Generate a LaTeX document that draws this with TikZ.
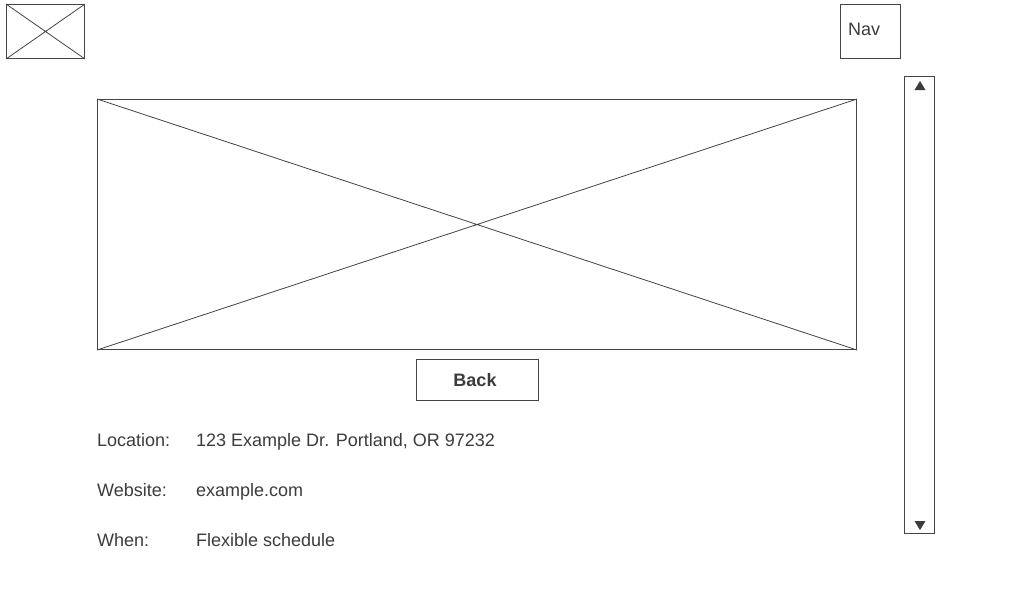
\documentclass[tikz,border=0pt]{standalone}
\usepackage{fontspec}
\setmainfont{Liberation Sans}
\usetikzlibrary{calc,positioning}
\definecolor{wire}{HTML}{444444}
\definecolor{ink}{HTML}{3C3C3C}
\tikzset{
	box/.style={draw=wire, line width=1pt, inner sep=0pt, anchor=north west},
	lbl/.style={text=ink, inner sep=0pt, anchor=base west, font=\fontsize{18}{21}\selectfont},
	cross/.style={draw=wire, line width=0.8pt},
}

\begin{document}
\begin{tikzpicture}[x=1pt, y=-1pt]
			%%%%% START %%%%%
			\useasboundingbox[fill=white] (0, 0) rectangle (1024, 600);
			
			\node[box, minimum width=78, minimum height=54] (logo) at (6, 4) {};
			\draw[cross] (logo.north west) -- (logo.south east) (logo.south west) -- (logo.north east);
			
			\node[box, minimum width=60, minimum height=54] (nav) at (840, 4) {};
			\node[lbl] (navtext) at (848, 35) {Nav};
			
			\node[box, minimum width=30, minimum height=457] (scroll) at (904, 76) {};
			\fill[ink] ($(scroll.north)+(0.5, 5)$) -- ++(5.5, 9) -- ++(-11, 0) -- cycle;
			\fill[ink] ($(scroll.south)+(0.5, -4)$) -- ++(5.5, -9) -- ++(-11, 0) -- cycle;
			
			\node[box, minimum width=759, minimum height=250] (hero) at (97, 99) {};
			\draw[cross] (hero.north west) -- (hero.south east) (hero.south west) -- (hero.north east);
			
			\node[box, minimum width=122, minimum height=41] (back) at (416, 359) {};
			\node[text=ink, inner sep=0pt, font=\fontsize{18}{21}\selectfont\bfseries] (backtext) at ($(back.center)+(-2.5, 0)$) {Back};
			
			\node[lbl] (location) at (97, 446) {Location:};
			\node[lbl] (address) at (196, 446) {123 Example Dr. Portland, OR 97232};
			\node[lbl] (website) at (97, 496) {Website:};
			\node[lbl] (url) at (196, 496) {example.com};
			\node[lbl] (when) at (97, 546) {When:};
			\node[lbl] (schedule) at (196, 546) {Flexible schedule};
			
			%%%%% END %%%%%
\end{tikzpicture}
\end{document}
